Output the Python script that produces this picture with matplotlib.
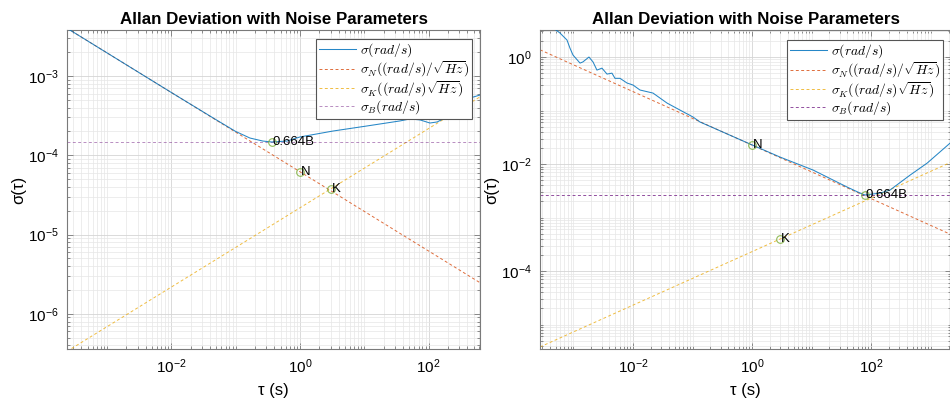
import matplotlib
matplotlib.use("Agg")
import matplotlib.pyplot as plt
import numpy as np
from matplotlib.font_manager import FontProperties
from matplotlib.ticker import FixedLocator, LogLocator, NullFormatter, LogFormatterSciNotation

plt.rcParams["font.family"] = ["Liberation Sans", "DejaVu Sans"]
plt.rcParams["axes.unicode_minus"] = False

# ---- left panel: Allan deviation ----
tau_left = [2.4e-4, 1e-3, 1e-2, 0.05, 0.1, 0.167, 0.266, 0.367, 0.628, 1.0,
            3.26, 11.0, 36.0, 51.5, 73.7, 105.0, 136.0, 194.0, 309.0, 443.0, 630.0]
adev_left = [4.0e-3, 1.96e-3, 6.2e-4, 2.8e-4, 2.0e-4, 1.65e-4, 1.51e-4, 1.47e-4, 1.51e-4, 1.70e-4,
             2.02e-4, 2.34e-4, 2.71e-4, 2.87e-4, 2.79e-4, 2.55e-4, 2.63e-4, 3.04e-4, 4.06e-4, 5.28e-4, 5.75e-4]
N_left, K_left, B_left = 6.2e-5, 3.76e-5, 1.47e-4
tauB_left = 0.367
xlim_left = (2.4e-4, 630.0)
ylim_left = (3.6e-7, 3.8e-3)
yticks_left = [1e-6, 1e-5, 1e-4, 1e-3]

# ---- right panel ----
tau_right = [2.74e-4, 4.89e-4, 5.93e-4, 7.78e-4, 8.73e-4, 9.81e-4, 1.29e-3, 1.44e-3, 1.82e-3, 2.13e-3,
             2.48e-3, 3.01e-3, 3.66e-3, 4.43e-3, 4.98e-3, 6.05e-3, 7.93e-3, 1.0e-2, 1.31e-2, 2.17e-2,
             3.73e-2, 6.17e-2, 0.102, 0.134, 1.0, 2.96, 10.6, 39.5, 65.3, 79.3,
             142.0, 208.0, 452.0, 873.0, 2200.0]
adev_right = [3.3, 3.3, 2.81, 2.08, 1.47, 1.09, 0.77, 0.81, 1.0, 0.81,
              0.57, 0.62, 0.48, 0.50, 0.40, 0.40, 0.327, 0.30, 0.242, 0.212,
              0.138, 0.102, 0.0757, 0.061, 0.0228, 0.0135, 7.73e-3, 3.72e-3, 2.87e-3, 2.64e-3,
              2.87e-3, 3.27e-3, 6.22e-3, 0.0104, 0.0255]
N_right, K_right, B_right = 0.0226, 4.0e-4, 2.63e-3
tauB_right = 79.3
xlim_right = (2.74e-4, 2200.0)
ylim_right = (3.5e-6, 3.2)
yticks_right = [1e-4, 1e-2, 1e0]

xticks = [1e-2, 1e0, 1e2]

C_BLUE = "#0072BD"
C_ORANGE = "#D95319"
C_YELLOW = "#EDB120"
C_PURPLE = "#7E2F8E"
C_GREEN = "#77AC30"
C_AX = "#7a7a7a"

LABELS = [
    r"$\sigma (rad/s)$",
    r"$\sigma_N ((rad/s)/\sqrt{Hz})$",
    r"$\sigma_K ((rad/s)\sqrt{Hz})$",
    r"$\sigma_B (rad/s)$",
]


def draw_panel(ax, tau, adev, N, K, B, tauB, xlim, ylim, yticks, leg_anchor, b_alpha):
    t_ends = np.array(xlim)
    dash = (0, (3, 2.5))
    ax.plot(tau, adev, color=C_BLUE, lw=0.75, alpha=0.85, zorder=3)
    ax.plot(t_ends, N / np.sqrt(t_ends), color=C_ORANGE, lw=0.7, ls=dash, alpha=0.85, zorder=2)
    ax.plot(t_ends, K * np.sqrt(t_ends / 3.0), color=C_YELLOW, lw=0.7, ls=dash, alpha=0.85, zorder=2)
    ax.plot(t_ends, [B, B], color=C_PURPLE, lw=0.7, ls=dash, alpha=b_alpha, zorder=2)

    pts_t = [1.0, 3.0, tauB]
    pts_v = [N, K, B]
    ax.plot(pts_t, pts_v, ls="none", marker="o", ms=5.5, mfc="none",
            mec=C_GREEN, mew=0.8, alpha=0.8, zorder=4)
    for t, v, s in zip(pts_t, pts_v, ["N", "K", "0.664B"]):
        ax.text(t * 1.03, v, s, ha="left", va="center", fontsize=9.5, zorder=5)

    ax.set_xscale("log")
    ax.set_yscale("log")
    ax.set_xlim(*xlim)
    ax.set_ylim(*ylim)
    ax.xaxis.set_major_locator(FixedLocator(xticks))
    ax.yaxis.set_major_locator(FixedLocator(yticks))
    for axis in (ax.xaxis, ax.yaxis):
        axis.set_major_formatter(LogFormatterSciNotation())
        axis.set_minor_locator(LogLocator(base=10, subs=np.arange(1, 10), numticks=100))
        axis.set_minor_formatter(NullFormatter())

    ax.grid(True, which="major", color="#d4d4d4", lw=0.6)
    ax.grid(True, which="minor", color="#e6e6e6", lw=0.5)
    ax.set_axisbelow(True)
    ax.tick_params(which="both", direction="in", top=True, right=True,
                   color=C_AX, labelsize=11, width=0.6)
    ax.tick_params(which="major", length=4, pad=6)
    ax.tick_params(which="minor", length=2.2)
    for sp in ax.spines.values():
        sp.set_color(C_AX)
        sp.set_linewidth(0.8)

    ax.set_title("Allan Deviation with Noise Parameters", fontsize=12.2,
                 fontweight="bold", pad=4)
    ax.set_xlabel("τ (s)", fontsize=12, labelpad=5)
    ax.set_ylabel("σ(τ)", fontsize=12, labelpad=1)

    prop = FontProperties(size=9.8, math_fontfamily="cm")
    leg = ax.legend(ax.get_lines()[:4], LABELS, loc="upper right",
                    bbox_to_anchor=leg_anchor, borderaxespad=0, prop=prop,
                    fancybox=False, framealpha=1, edgecolor="#555555",
                    handlelength=2.7, handletextpad=0.3, labelspacing=0.0,
                    borderpad=0.2)
    leg.get_frame().set_linewidth(0.8)


fig = plt.figure(figsize=(9.5, 4.03), dpi=100)
ax1 = fig.add_axes([67 / 950, 54 / 403, 413 / 950, 319 / 403])
ax2 = fig.add_axes([540 / 950, 54 / 403, 411 / 950, 319 / 403])

draw_panel(ax1, tau_left, adev_left, N_left, K_left, B_left, tauB_left,
           xlim_left, ylim_left, yticks_left, (0.981, 0.972), 0.55)
draw_panel(ax2, tau_right, adev_right, N_right, K_right, B_right, tauB_right,
           xlim_right, ylim_right, yticks_right, (0.981, 0.969), 0.85)

fig.savefig("out.png", dpi=100)
